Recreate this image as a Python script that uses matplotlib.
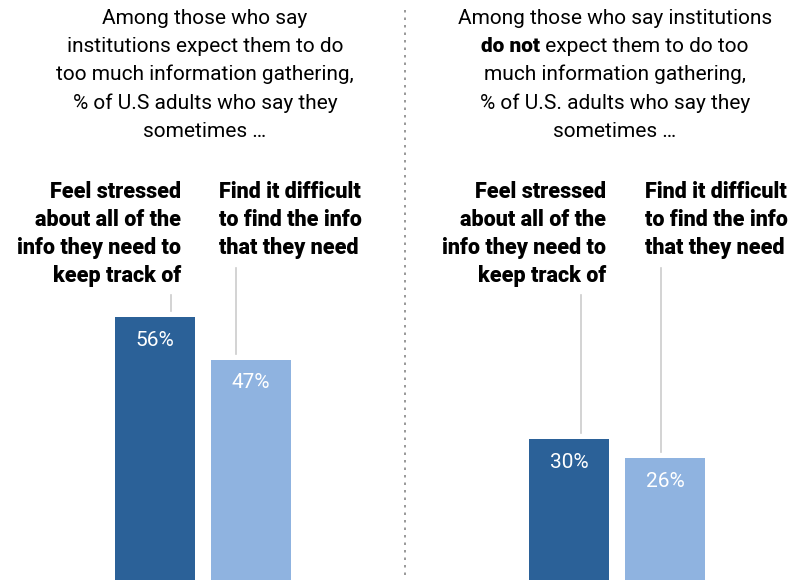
import matplotlib
matplotlib.use("Agg")
import matplotlib.pyplot as plt

# data
groups = ["expect too much", "do not expect too much"]
stressed = [56, 30]
difficult = [47, 26]
bar_labels = [["Feel stressed", "about all of the", "info they need to", "keep track of"],
              ["Find it difficult", "to find the info", "that they need"]]
titles = [
    ["Among those who say", "institutions expect them to do", "too much information gathering,",
     "% of U.S adults who say they", "sometimes \u2026"],
    ["Among those who say institutions", ("do not", " expect them to do too"), "much information gathering,",
     "% of U.S. adults who say they", "sometimes \u2026"],
]

DARK = "#2b6198"
LIGHT = "#8fb3e0"
W, H = 804, 580
FONT = "Roboto"

fig = plt.figure(figsize=(W / 100, H / 100), dpi=100)
ax = fig.add_axes([0, 0, 1, 1])
px_per_pct = 4.69
ax.set_xlim(0, W)
ax.set_ylim(0, H / px_per_pct)
ax.axis("off")


def fx(x):
    return x / W


def fy(y):
    return 1 - y / H


panel_centers = [205, 615]
bar_x = [(155, 251), (569, 665)]

for i in range(2):
    x1, x2 = bar_x[i]
    ax.bar([x1], [stressed[i]], width=80, color=DARK)
    ax.bar([x2], [difficult[i]], width=80, color=LIGHT)
    ax.text(x1, stressed[i] - 23 / px_per_pct, f"{stressed[i]}%", color="white",
            ha="center", va="center", fontsize=15, family=FONT)
    ax.text(x2, difficult[i] - 23 / px_per_pct, f"{difficult[i]}%", color="white",
            ha="center", va="center", fontsize=15, family=FONT)

# bar labels
for i in range(2):
    xr = [181, 606][i]
    xl = [219, 645][i]
    for j, line in enumerate(bar_labels[0]):
        fig.text(fx(xr), fy(192 + 28 * j), line, ha="right", va="center",
                 fontsize=15.5, fontweight="heavy", family=FONT, color="black")
    for j, line in enumerate(bar_labels[1]):
        fig.text(fx(xl), fy(192 + 28 * j), line, ha="left", va="center",
                 fontsize=15.5, fontweight="heavy", family=FONT, color="black")

# leader lines
for i in range(2):
    x1, x2 = bar_x[i]
    ax.plot([x1 + 16, x1 + 16] if i == 0 else [x1 + 12, x1 + 12],
            [(H - 295) / px_per_pct, stressed[i] + 6 / px_per_pct], color="#cccccc", lw=1.2)
    ax.plot([x2 - 15, x2 - 15] if i == 0 else [x2 - 4, x2 - 4],
            [(H - 268) / px_per_pct, difficult[i] + 6 / px_per_pct], color="#cccccc", lw=1.2)

# titles
fig.canvas.draw()
renderer = fig.canvas.get_renderer()
for i in range(2):
    cx = panel_centers[i]
    for j, line in enumerate(titles[i]):
        y = fy(18 + 28.3 * j)
        if isinstance(line, tuple):
            tb = fig.text(0, y, line[0], fontsize=15, fontweight="heavy", family=FONT,
                          va="center", ha="left")
            tr = fig.text(0, y, line[1], fontsize=15, family=FONT, va="center", ha="left")
            wb = tb.get_window_extent(renderer).width
            wr = tr.get_window_extent(renderer).width
            x0 = cx - (wb + wr) / 2
            tb.set_x(fx(x0))
            tr.set_x(fx(x0 + wb))
        else:
            fig.text(fx(cx), y, line, fontsize=15, family=FONT, ha="center", va="center")

# divider
ax.plot([405, 405], [(H - 575) / px_per_pct, (H - 10) / px_per_pct], color="#888888",
        lw=1.2, linestyle=(0, (1.5, 3)))

fig.savefig("out.png", dpi=100)
